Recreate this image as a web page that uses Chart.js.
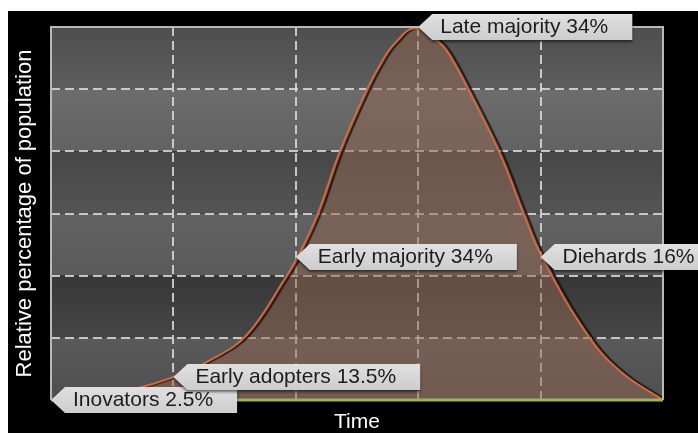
<!DOCTYPE html>
<html>
<head>
<meta charset="utf-8">
<script src="https://cdn.jsdelivr.net/npm/chart.js@4/dist/chart.umd.min.js"></script>
<style>
  html, body { margin: 0; padding: 0; background: #ffffff; }
  #wrap { position: absolute; left: 0; top: 0; width: 698px; height: 433px; }
</style>
</head>
<body>
<div id="wrap"><canvas id="c" width="698" height="433"></canvas></div>
<script>
// ---- data ----
const timePoints  = [0, 0.33, 0.645, 1.0, 1.32, 1.60, 1.91, 2.02, 2.18, 2.36, 2.58, 2.71, 2.81, 2.97, 3.18, 3.28, 3.41, 3.67, 3.86, 4.01, 4.40, 4.67, 5.0];
const shareValues = [0, 0.05, 0.16, 0.37, 0.66, 1.05, 1.95, 2.32, 3.0, 4.0, 4.99, 5.47, 5.74, 5.98, 5.74, 5.47, 4.99, 3.95, 3.0, 2.30, 1.0, 0.43, 0];

const stageNames = ['Inovators 2.5%', 'Early adopters 13.5%', 'Early majority 34%', 'Late majority 34%', 'Diehards 16%'];
const stageTime  = [0, 1, 2, 3, 4];
const stageLevel = [0, 0.37, 2.3, 6, 2.3];

const xTitle = 'Time';
const yTitle = 'Relative percentage of population';

const curve = timePoints.map((t, i) => ({ x: t, y: shareValues[i] }));

const bandColors = [
  ['#4e4e4e', '#5d5d5d'],
  ['#6c6c6c', '#626262'],
  ['#474747', '#545454'],
  ['#626262', '#5a5a5a'],
  ['#373737', '#464646'],
  ['#5a5a5a', '#4f4f4f']
];

const bgPlugin = {
  id: 'bg',
  beforeDraw(chart) {
    const { ctx, chartArea: a, width, height } = chart;
    ctx.save();
    ctx.fillStyle = '#ffffff';
    ctx.fillRect(0, 0, width, height);
    ctx.fillStyle = '#000000';
    ctx.fillRect(8, 11, width - 8, height - 11);
    const ys = chart.scales.y;
    for (let i = 0; i < 6; i++) {
      const top = ys.getPixelForValue(6 - i);
      const bot = ys.getPixelForValue(5 - i);
      const g = ctx.createLinearGradient(0, top, 0, bot);
      g.addColorStop(0, bandColors[i][0]);
      g.addColorStop(1, bandColors[i][1]);
      ctx.fillStyle = g;
      ctx.fillRect(a.left, top, a.right - a.left, bot - top);
    }
    ctx.restore();
  }
};

const shadowPlugin = {
  id: 'lineShadow',
  beforeDatasetDraw(chart, args) {
    if (args.index === 0) {
      const ctx = chart.ctx;
      ctx.save();
      ctx.shadowColor = 'rgba(15,10,10,0.85)';
      ctx.shadowOffsetX = 3;
      ctx.shadowOffsetY = 0;
      ctx.shadowBlur = 1;
    }
  },
  afterDatasetDraw(chart, args) {
    if (args.index === 0) chart.ctx.restore();
  }
};

const calloutPlugin = {
  id: 'callouts',
  afterDraw(chart) {
    const { ctx, chartArea: a } = chart;
    const xs = chart.scales.x, ys = chart.scales.y;
    ctx.save();
    // frame
    ctx.lineWidth = 2;
    ctx.strokeStyle = '#b9b9b9';
    ctx.beginPath();
    ctx.moveTo(a.left, a.bottom);
    ctx.lineTo(a.left, a.top);
    ctx.lineTo(a.right, a.top);
    ctx.lineTo(a.right, a.bottom);
    ctx.stroke();
    ctx.lineWidth = 3;
    ctx.strokeStyle = '#98b655';
    ctx.beginPath();
    ctx.moveTo(a.left, a.bottom);
    ctx.lineTo(a.right, a.bottom);
    ctx.stroke();

    ctx.font = '21px "Liberation Sans", Arial, sans-serif';
    ctx.textBaseline = 'middle';
    ctx.textAlign = 'left';
    stageNames.forEach((name, i) => {
      const tx = xs.getPixelForValue(stageTime[i]);
      const ty = ys.getPixelForValue(stageLevel[i]);
      const h = 26, arrow = 14;
      const tw = ctx.measureText(name).width;
      const right = tx + 22 + tw + 24;
      const top = ty - h / 2, bot = ty + h / 2;
      ctx.save();
      ctx.shadowColor = 'rgba(0,0,0,0.55)';
      ctx.shadowBlur = 3;
      ctx.shadowOffsetY = 2;
      const g = ctx.createLinearGradient(0, top, 0, bot);
      g.addColorStop(0, '#e0e0e0');
      g.addColorStop(1, '#cdcdcd');
      ctx.fillStyle = g;
      ctx.beginPath();
      ctx.moveTo(tx, ty);
      ctx.lineTo(tx + arrow, top);
      ctx.lineTo(right, top);
      ctx.lineTo(right, bot);
      ctx.lineTo(tx + arrow, bot);
      ctx.closePath();
      ctx.fill();
      ctx.restore();
      ctx.fillStyle = '#1c1c1c';
      ctx.fillText(name, tx + 22, ty);
    });
    ctx.restore();
  }
};

new Chart(document.getElementById('c'), {
  type: 'line',
  data: {
    datasets: [
      {
        label: 'curve line',
        data: curve,
        borderColor: '#d4683c',
        borderWidth: 2,
        fill: false,
        pointRadius: 0,
        tension: 0.4,
        order: 0
      },
      {
        label: 'curve fill',
        data: curve,
        borderWidth: 0,
        borderColor: 'rgba(0,0,0,0)',
        backgroundColor: 'rgba(145,100,78,0.5)',
        fill: 'origin',
        pointRadius: 0,
        tension: 0.4,
        order: 1
      }
    ]
  },
  options: {
    responsive: false,
    animation: false,
    events: [],
    layout: { padding: { left: 8, top: 27, right: 35, bottom: 0 } },
    plugins: { legend: { display: false }, tooltip: { enabled: false } },
    scales: {
      x: {
        type: 'linear', min: 0, max: 5,
        ticks: { display: false, stepSize: 1 },
        grid: { color: 'rgba(220,220,220,0.85)', lineWidth: 2, drawTicks: false },
        border: { display: false, dash: [9, 5] },
        title: {
          display: true, text: xTitle, color: '#ffffff',
          font: { family: '"Liberation Sans", Arial, sans-serif', size: 21, lineHeight: 1 },
          padding: { top: 12, bottom: 0 }
        }
      },
      y: {
        type: 'linear', min: 0, max: 6,
        ticks: { display: false, stepSize: 1 },
        grid: { color: 'rgba(220,220,220,0.85)', lineWidth: 2, drawTicks: false },
        border: { display: false, dash: [9, 5] },
        title: {
          display: true, text: yTitle, color: '#ffffff',
          font: { family: '"Liberation Sans", Arial, sans-serif', size: 22, lineHeight: 1 },
          padding: { top: 6, bottom: 15 }
        }
      }
    }
  },
  plugins: [bgPlugin, shadowPlugin, calloutPlugin]
});
</script>
</body>
</html>
